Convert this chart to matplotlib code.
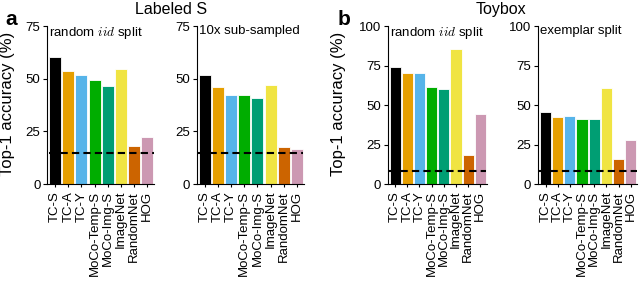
import matplotlib.pyplot as plt
import numpy as np

plt.rcParams['font.family'] = ['Liberation Sans', 'DejaVu Sans']
plt.rcParams['mathtext.fontset'] = 'cm'

models = ["TC-S", "TC-A", "TC-Y", "MoCo-Temp-S", "MoCo-Img-S", "ImageNet", "RandomNet", "HOG"]
colors = ["#000000", "#E69F00", "#56B4E9", "#00AD00", "#009E73", "#F0E442", "#CC6400", "#CC98B2"]

# Labeled S
acc_s_iid = [60.5, 53.8, 51.6, 49.4, 46.7, 54.4, 18.0, 22.4]
acc_s_sub = [51.9, 45.9, 42.5, 42.2, 40.7, 46.8, 17.6, 16.5]
chance_s = 14.7
# Toybox
acc_t_iid = [73.8, 70.2, 70.2, 61.4, 60.1, 85.2, 18.1, 44.1]
acc_t_ex = [45.6, 42.4, 43.4, 40.9, 41.5, 60.8, 16.0, 28.0]
chance_t = 8.3

fig = plt.figure(figsize=(6.4, 2.84), dpi=100)

panels = [
    ([0.074, 0.352, 0.167, 0.556], acc_s_iid, chance_s, 75, "random $iid$ split", -0.30),
    ([0.308, 0.352, 0.167, 0.556], acc_s_sub, chance_s, 75, "10x sub-sampled", None),
    ([0.606, 0.352, 0.155, 0.556], acc_t_iid, chance_t, 100, "random $iid$ split", -0.42),
    ([0.841, 0.352, 0.155, 0.556], acc_t_ex, chance_t, 100, "exemplar split", None),
]

x = np.arange(len(models))
for rect, vals, chance, top, sub, ylab_x in panels:
    ax = fig.add_axes(rect)
    ax.bar(x, vals, width=0.92, color=colors, edgecolor='white', linewidth=0.6)
    ax.plot([-0.5, 7.5], [chance, chance], color='black', ls=(0, (3.5, 2)), lw=1.5)
    ax.set_xlim(-0.6, 7.55)
    ax.set_ylim(0, top)
    ax.set_yticks(np.arange(0, top + 1, 25))
    ax.set_xticks(x)
    ax.set_xticklabels(models, rotation=90)
    ax.tick_params(axis='x', length=2.5, pad=2.5, labelsize=9.5)
    ax.tick_params(axis='y', length=3, labelsize=9.5, pad=2)
    ax.spines['top'].set_visible(False)
    ax.spines['right'].set_visible(False)
    ax.text(0.02, 1.01, sub, transform=ax.transAxes, fontsize=9.5, va='top', ha='left')
    if ylab_x is not None:
        ax.set_ylabel("Top-1 accuracy (%)", fontsize=12)
        ax.yaxis.set_label_coords(ylab_x, 0.51)

fig.text(0.267, 0.965, "Labeled S", fontsize=11.5, ha='center', va='center')
fig.text(0.782, 0.965, "Toybox", fontsize=11.5, ha='center', va='center')
fig.text(0.017, 0.93, "a", fontsize=15, fontweight='bold', ha='center', va='center')
fig.text(0.537, 0.93, "b", fontsize=15, fontweight='bold', ha='center', va='center')

fig.savefig("out.png", dpi=100)
